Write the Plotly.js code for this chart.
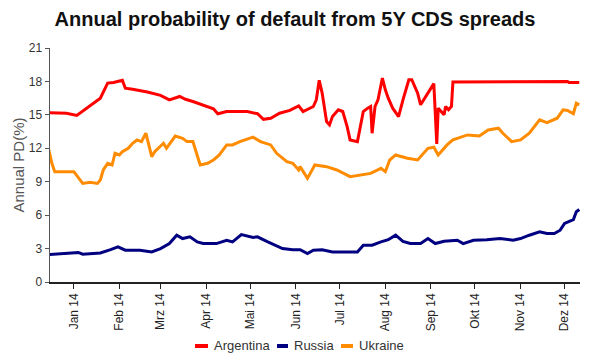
<!DOCTYPE html>
<html>
<head>
<meta charset="utf-8">
<script src="https://cdn.plot.ly/plotly-3.0.1.min.js"></script>
<style>html,body{margin:0;padding:0;background:#fff}#chart{width:602px;height:363px}</style>
</head>
<body>
<div id="chart"></div>
<script>
const argDates = ['2013-12-15','2013-12-27','2014-01-03','2014-01-10','2014-01-19','2014-01-24','2014-01-28','2014-02-03','2014-02-05','2014-02-10','2014-02-20','2014-03-01','2014-03-07','2014-03-14','2014-03-18','2014-03-23','2014-03-30','2014-04-06','2014-04-09','2014-04-15','2014-04-29','2014-05-06','2014-05-10','2014-05-15','2014-05-21','2014-05-28','2014-06-03','2014-06-06','2014-06-13','2014-06-15','2014-06-17','2014-06-19','2014-06-22','2014-06-24','2014-06-26','2014-06-30','2014-07-03','2014-07-06','2014-07-08','2014-07-13','2014-07-15','2014-07-17','2014-07-20','2014-07-22','2014-07-23','2014-07-25','2014-07-27','2014-07-30','2014-08-01','2014-08-03','2014-08-06','2014-08-10','2014-08-13','2014-08-17','2014-08-19','2014-08-23','2014-08-25','2014-08-30','2014-09-03','2014-09-05','2014-09-06','2014-09-10','2014-09-11','2014-09-13','2014-09-15','2014-09-16','2014-10-01','2014-11-01','2014-12-01','2014-12-03','2014-12-04','2014-12-11'];
const argentina = [15.2,15.15,14.95,15.6,16.5,17.85,17.9,18.1,17.4,17.3,17.05,16.75,16.35,16.65,16.4,16.2,15.9,15.55,15.1,15.3,15.3,15.1,14.6,14.7,15.15,15.4,15.8,15.3,15.75,16.35,18.1,16.95,14.4,14.1,14.85,15.45,15.3,13.95,12.75,12.6,13.95,15.3,15.6,15.75,13.35,15.75,16.35,18.3,17.25,16.5,15.6,14.85,16.35,18.15,18.15,16.95,15.9,16.95,17.8,12.4,15.6,15.0,15.75,15.45,15.75,17.95,17.95,17.95,17.95,18.0,17.9,17.9];

const rusDates = ['2013-12-15','2013-12-27','2014-01-04','2014-01-07','2014-01-19','2014-01-26','2014-01-31','2014-02-05','2014-02-15','2014-02-23','2014-03-01','2014-03-07','2014-03-12','2014-03-16','2014-03-21','2014-03-26','2014-03-30','2014-04-08','2014-04-15','2014-04-19','2014-04-25','2014-05-03','2014-05-06','2014-05-13','2014-05-19','2014-05-23','2014-05-30','2014-06-04','2014-06-09','2014-06-13','2014-06-19','2014-06-26','2014-07-06','2014-07-13','2014-07-17','2014-07-23','2014-07-29','2014-08-03','2014-08-08','2014-08-13','2014-08-18','2014-08-25','2014-08-30','2014-09-04','2014-09-10','2014-09-19','2014-09-23','2014-09-30','2014-10-09','2014-10-18','2014-10-27','2014-11-01','2014-11-07','2014-11-14','2014-11-19','2014-11-24','2014-11-28','2014-12-01','2014-12-07','2014-12-09','2014-12-11'];
const russia = [2.45,2.6,2.65,2.5,2.6,2.9,3.15,2.85,2.85,2.7,3.0,3.45,4.2,3.9,4.05,3.6,3.45,3.45,3.75,3.6,4.25,4.0,4.05,3.6,3.2,3.0,2.9,2.9,2.55,2.85,2.9,2.7,2.7,2.7,3.3,3.3,3.6,3.8,4.2,3.65,3.45,3.45,3.9,3.45,3.65,3.75,3.45,3.75,3.8,3.9,3.75,3.9,4.2,4.5,4.35,4.35,4.65,5.25,5.6,6.3,6.5];

const ukrDates = ['2013-12-15','2013-12-17','2013-12-19','2013-12-27','2014-01-01','2014-01-07','2014-01-12','2014-01-17','2014-01-19','2014-01-21','2014-01-24','2014-01-27','2014-01-29','2014-02-01','2014-02-03','2014-02-07','2014-02-10','2014-02-13','2014-02-16','2014-02-19','2014-02-20','2014-02-23','2014-02-25','2014-03-01','2014-03-03','2014-03-05','2014-03-09','2014-03-11','2014-03-16','2014-03-19','2014-03-23','2014-03-26','2014-03-28','2014-04-02','2014-04-06','2014-04-10','2014-04-15','2014-04-19','2014-04-24','2014-05-03','2014-05-08','2014-05-15','2014-05-19','2014-05-26','2014-05-30','2014-06-03','2014-06-04','2014-06-09','2014-06-14','2014-06-22','2014-06-29','2014-07-08','2014-07-15','2014-07-22','2014-07-29','2014-08-01','2014-08-04','2014-08-08','2014-08-16','2014-08-23','2014-08-30','2014-09-03','2014-09-06','2014-09-12','2014-09-16','2014-09-26','2014-10-04','2014-10-10','2014-10-17','2014-10-20','2014-10-26','2014-11-01','2014-11-07','2014-11-14','2014-11-19','2014-11-26','2014-11-30','2014-12-03','2014-12-07','2014-12-09','2014-12-11'];
const ukraine = [11.85,10.65,9.9,9.9,9.9,8.85,8.95,8.85,9.15,10.05,10.65,10.5,11.55,11.4,11.7,12.0,12.45,12.75,12.6,13.35,12.75,11.25,11.7,12.15,12.45,12.0,12.75,13.1,12.9,12.6,12.6,11.25,10.5,10.65,10.95,11.4,12.3,12.3,12.6,13.0,12.6,12.3,11.55,10.8,10.65,10.05,10.35,9.3,10.5,10.35,10.05,9.45,9.6,9.75,10.2,9.9,10.95,11.4,11.1,10.95,12.0,12.1,11.4,12.3,12.75,13.2,13.1,13.65,13.8,13.35,12.6,12.75,13.35,14.55,14.3,14.7,15.45,15.4,15.1,16.05,15.9];

const seriesNames = ['Argentina','Russia','Ukraine'];
const seriesColors = ['#ff0000','#000080','#ff8c00'];
const tickDates = ['2014-01-01','2014-02-01','2014-03-01','2014-04-01','2014-05-01','2014-06-01','2014-07-01','2014-08-01','2014-09-01','2014-10-01','2014-11-01','2014-12-01'];
const tickLabels = ['Jan 14','Feb 14','Mrz 14','Apr 14','Mai 14','Jun 14','Jul 14','Aug 14','Sep 14','Okt 14','Nov 14','Dez 14'];
const yTicks = [0,3,6,9,12,15,18,21];

const xs = [argDates, rusDates, ukrDates];
const ys = [argentina, russia, ukraine];
const traces = seriesNames.map((n,i)=>({
  type:'scatter', mode:'lines', name:n, x:xs[i], y:ys[i],
  line:{color:seriesColors[i], width:3}, showlegend:false
}));

// custom legend (swatches + text) in paper coords
const legY = -0.2735;
const legSw = [[0.2736,0.2981,0.3057],[0.4283,0.4491,0.4566],[0.549,0.5717,0.5792]];
const shapes = legSw.map((s,i)=>({type:'line', xref:'paper', yref:'paper', x0:s[0], x1:s[1], y0:legY, y1:legY, line:{color:seriesColors[i], width:4}}));
const annotations = legSw.map((s,i)=>({xref:'paper', yref:'paper', x:s[2], y:legY, xanchor:'left', yanchor:'middle', text:seriesNames[i], showarrow:false, font:{family:'Liberation Sans, Arial, sans-serif', size:13, color:'#333'}}));

const layout = {
  width:602, height:363,
  margin:{l:50, r:22, t:48, b:81},
  paper_bgcolor:'#fff', plot_bgcolor:'#fff',
  font:{family:'Liberation Sans, Arial, sans-serif', color:'#333'},
  title:{text:'Annual probability of default from 5Y CDS spreads', x:295/602, xanchor:'center', y:1-19/363, yanchor:'middle', xref:'container', font:{family:'Liberation Sans, Arial, sans-serif', size:20, color:'#111', weight:'bold'}},
  xaxis:{type:'date', range:['2013-12-15 18:00','2014-12-11 12:00'], tickvals:tickDates, ticktext:tickLabels, tickangle:-90,
    showgrid:false, zeroline:false, showline:true, linecolor:'#222', linewidth:1.5, ticks:'outside', ticklen:5, tickcolor:'#222', tickwidth:1,
    tickfont:{size:12, color:'#222'}},
  yaxis:{range:[0,21], tickvals:yTicks, showgrid:false, zeroline:false, showline:true, linecolor:'#555', linewidth:1.5,
    ticks:'outside', ticklen:4, tickcolor:'#555', tickfont:{size:12, color:'#333'},
    title:{text:'Annual PD(%)', font:{size:15, color:'#555'}, standoff:0}},
  shapes:shapes, annotations:annotations
};
Plotly.newPlot('chart', traces, layout, {staticPlot:true, displayModeBar:false});
</script>
</body>
</html>
